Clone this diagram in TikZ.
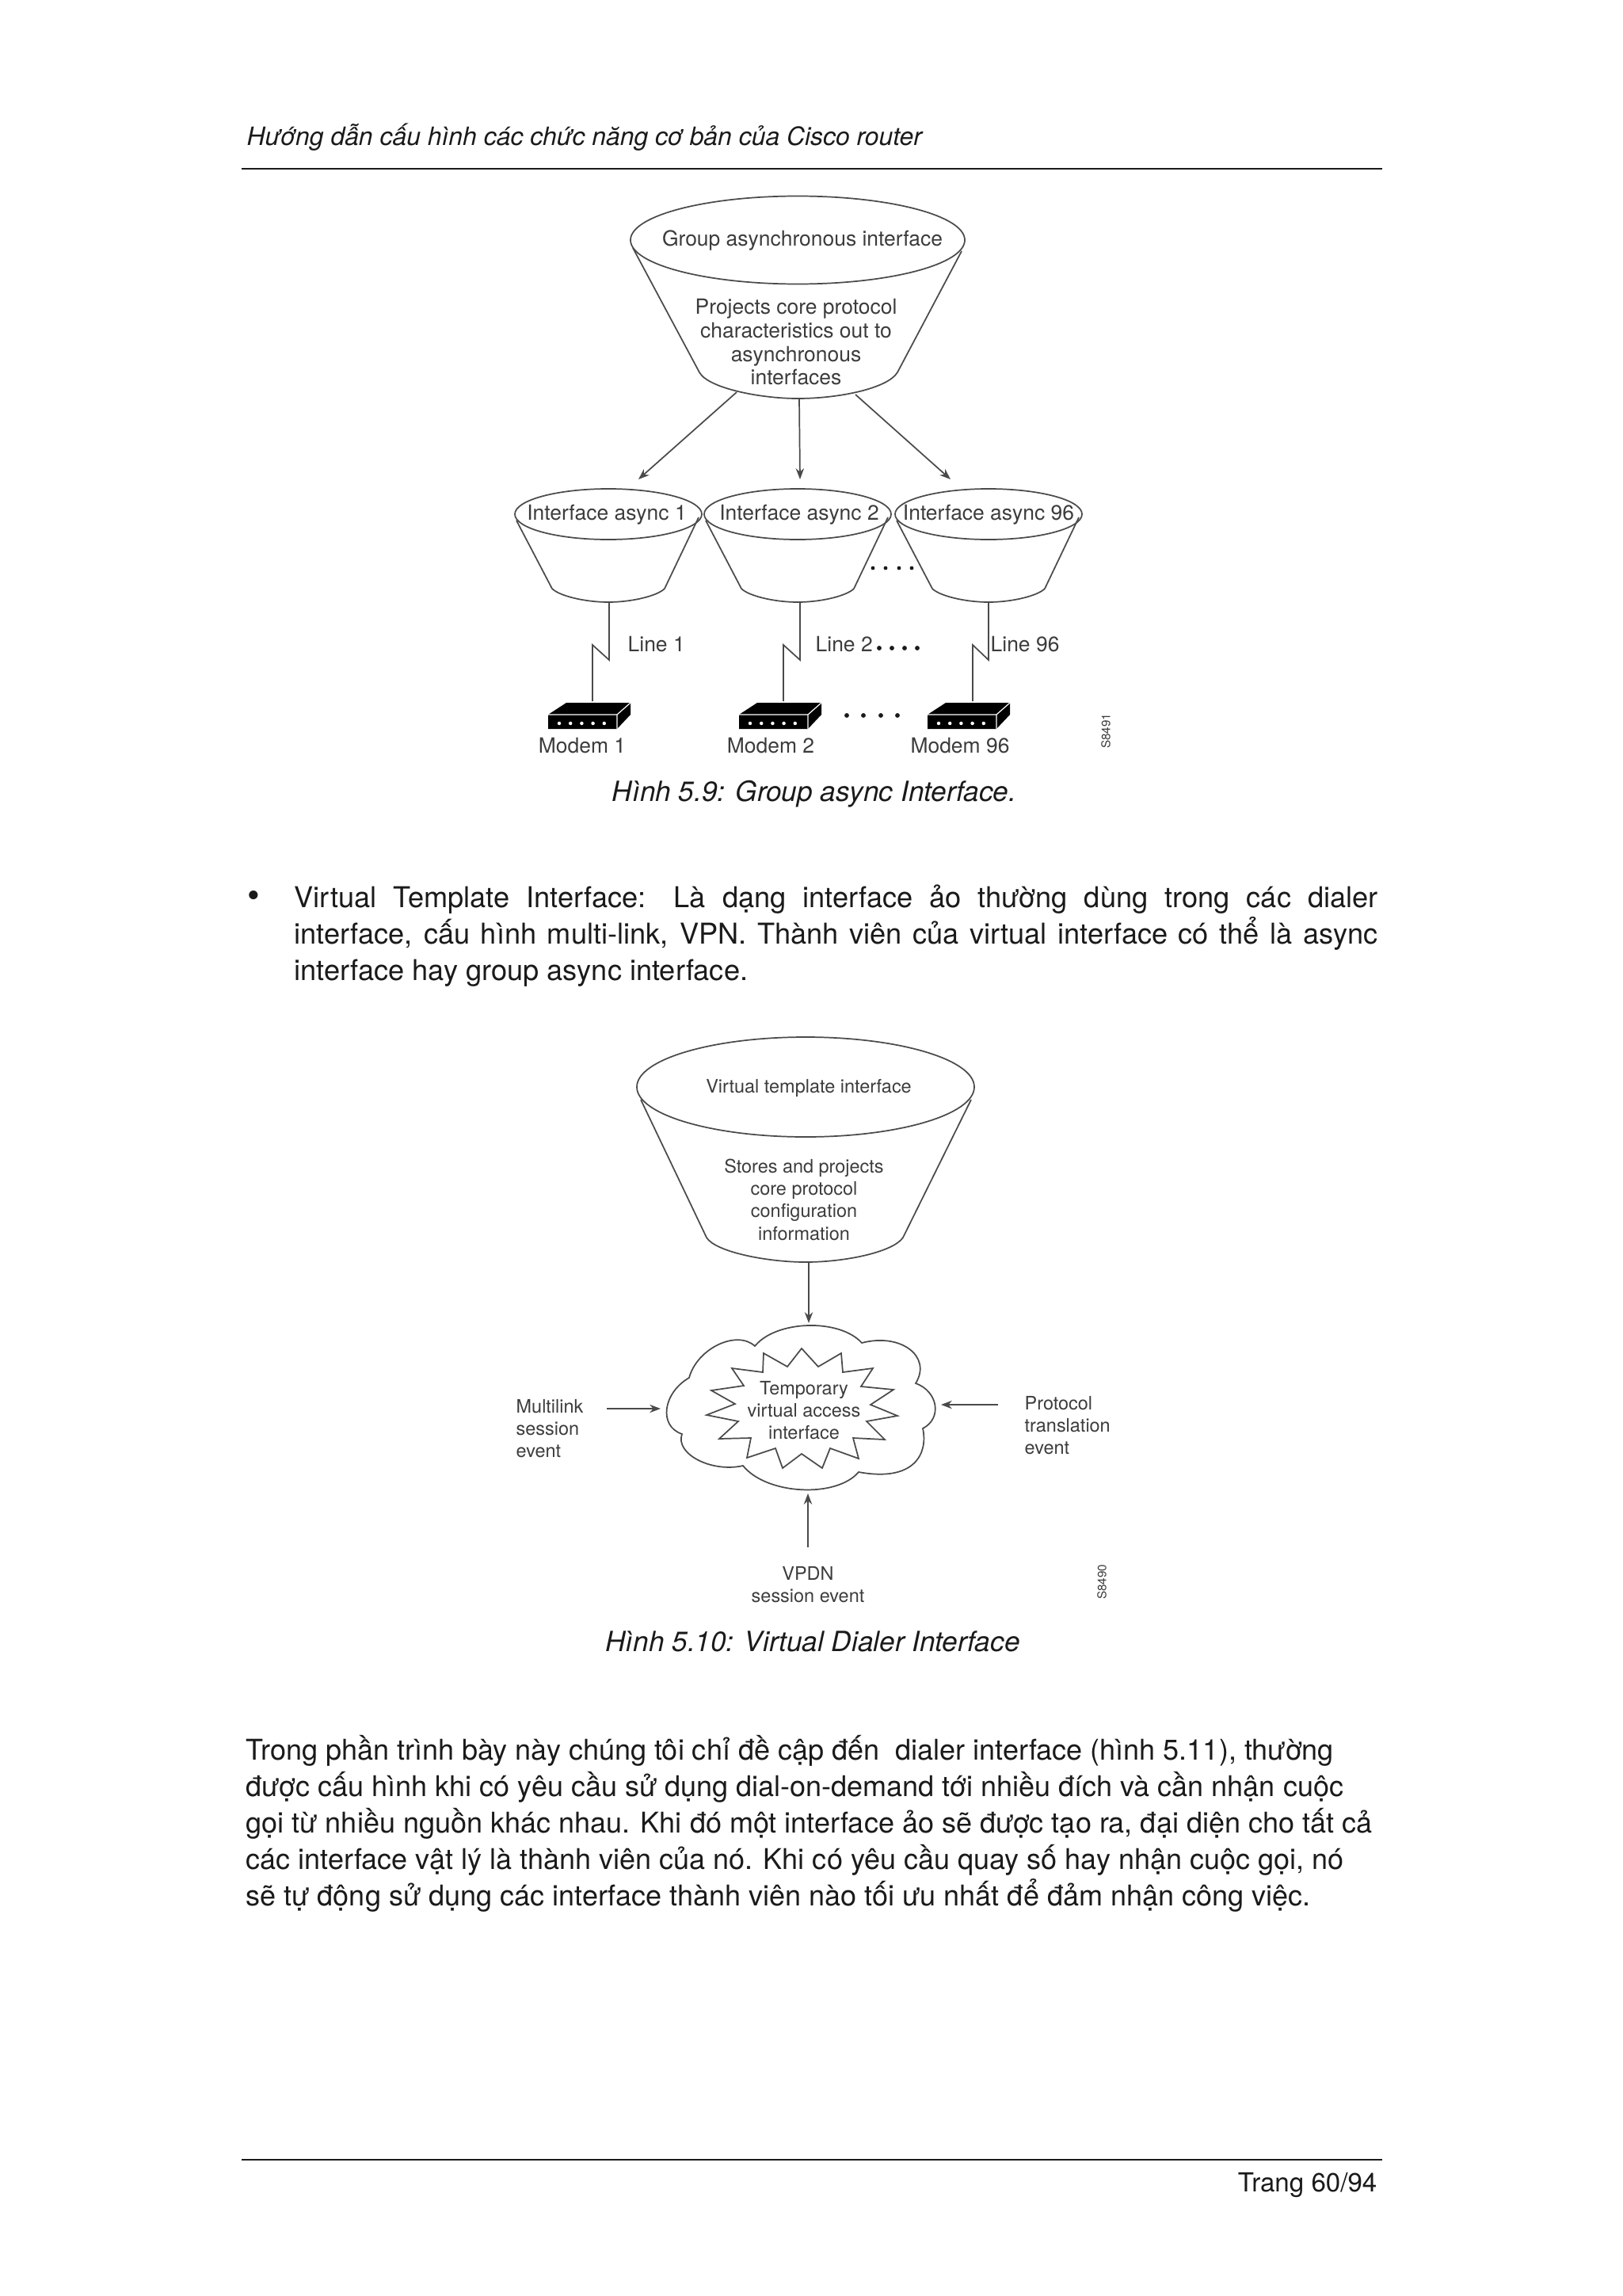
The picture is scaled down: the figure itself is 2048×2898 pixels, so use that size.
\documentclass[tikz,border=0pt]{standalone}
\usepackage{fontspec}
\setmainfont{TeX Gyre Heros}
\usetikzlibrary{shapes.geometric,arrows.meta}
\definecolor{pageink}{HTML}{1A1A1A}
\definecolor{figink}{HTML}{3C3C3C}
\definecolor{figline}{HTML}{4A4A4A}
\def\px{0.29pt}

\begin{document}
\begin{tikzpicture}[
  x=0.29pt, y=-0.29pt,
  bodytxt/.style={font=\fontsize{10.5}{13.33}\selectfont, text=pageink, inner sep=0pt},
  capt/.style={font=\fontsize{10.2}{13.33}\selectfont\itshape, text=pageink, inner sep=0pt},
  figa/.style={font=\fontsize{7.67}{8.6}\selectfont, text=figink, inner sep=0pt, align=center},
  figb/.style={font=\fontsize{6.8}{8.2}\selectfont, text=figink, inner sep=0pt, align=center},
  tag/.style={font=\fontsize{4.4}{5}\selectfont, text=figink, inner sep=0pt, rotate=90},
  rim/.style={ellipse, draw=figline, line width=0.5pt, inner sep=0pt},
  wall/.style={draw=figline, line width=0.5pt},
  arr/.style={draw=figline, line width=0.5pt, -{Stealth[length=4pt, width=3pt]}},
]
\useasboundingbox (0,0) rectangle (2048,2898);

% ============ page head ============
\node[capt, font=\fontsize{9.25}{13.33}\selectfont\itshape, anchor=west] (head) at (311,173)
  {Hướng dẫn cấu hình các chức năng cơ bản của Cisco router};
\draw[pageink, line width=0.6pt] (305,213) -- (1745,213);

% ============ figure 5.9: group interface funnel ============
\node[rim, minimum width=422*\px, minimum height=111*\px] (group) at (1007,303) {};
\node[figa] (grouptxt) at (1013,304) {Group asynchronous interface};
\draw[wall] (799,313) -- (883,470) .. controls (894,490) and (960,503) .. (1007,503)
  .. controls (1060,503) and (1121,490) .. (1133,470) -- (1214,317);
\node[figa] (groupbody) at (1005,432)
  {Projects core protocol\\ characteristics out to\\ asynchronous\\ interfaces};

% member funnels
\foreach \nm/\cx/\txtx/\lbl in {a/768/766/1, b/1007/1009/2, c/1248/1248/96} {
  \node[rim, minimum width=236*\px, minimum height=64*\px] (rim\nm) at (\cx,649) {};
  \node[figa] (rimtxt\nm) at (\txtx,650) {Interface async \lbl};
  \draw[wall] ({\cx-116},657) -- ({\cx-71},743)
    .. controls ({\cx-62},752) and ({\cx-30},760) .. (\cx,760)
    .. controls ({\cx+30},760) and ({\cx+62},752) .. ({\cx+71},743) -- ({\cx+114},653);
}
% arrows from the group funnel
\coordinate (ga) at (930,495);
\coordinate (gb) at (1009,503);
\coordinate (gc) at (1080,498);
\coordinate (ta) at (806,605);
\coordinate (tb) at (1010,605);
\coordinate (tc) at (1200,605);
\draw[arr] (ga) -- (ta);
\draw[arr] (gb) -- (tb);
\draw[arr] (gc) -- (tc);
% dots between funnels
\foreach \dx in {1102,1118,1135,1151} \fill[pageink] (\dx,717) circle (0.7pt);

% serial lines
\foreach \nm/\ux/\dx in {a/769/748, b/1010/989, c/1248/1228} {
  \coordinate (ltop\nm) at (\ux,760);
  \coordinate (lup\nm) at (\ux,833);
  \coordinate (ldn\nm) at (\dx,814);
  \coordinate (lend\nm) at (\dx,885);
  \draw[wall] (ltop\nm) -- (lup\nm) -- (ldn\nm) -- (lend\nm);
}
\node[figa, anchor=west] (linea) at (792,813) {Line 1};
\node[figa, anchor=west] (lineb) at (1029,813) {Line 2};
\node[figa, anchor=west] (linec) at (1250,813) {Line 96};
\foreach \dx in {1110,1126,1142,1158} \fill[pageink] (\dx,818) circle (0.85pt);

% modems
\foreach \nm/\fx/\cx/\lbl in {a/692/735/1, b/933/973/2, c/1171/1212/96} {
  \fill[black] (\fx,902) -- ({\fx+23},887) -- ({\fx+104},887) -- ({\fx+104},902)
    -- ({\fx+87},920) -- (\fx,920) -- cycle;
  \draw[white, line width=0.35pt] (\fx,902) -- ({\fx+87},902) -- ({\fx+104},887)
    ({\fx+87},902) -- ({\fx+87},920);
  \foreach \k in {0,...,4} \fill[white] ({\fx+14+\k*14.2},913) circle (0.65pt);
  \node[figa] (modem\nm) at (\cx,941) {Modem \lbl};
}
\foreach \dx in {1069,1090,1112,1133} \fill[pageink] (\dx,903) circle (0.85pt);
\node[tag] (taga) at (1396,923) {S8491};

\node[capt] (capa) at (1028,1002) {Hình 5.9: Group async Interface.};

% ============ bullet paragraph ============
\node[bodytxt, font=\fontsize{13}{13.33}\selectfont] (bullet) at (320,1135) {•};
\node[bodytxt, anchor=west, text width=1368*\px, align=justify] (bulletbody) at (371,1181)
  {Virtual Template Interface: Là dạng interface ảo thường dùng trong các dialer\linebreak
   interface, cấu hình multi-link, VPN. Thành viên của virtual interface có thể là async
   interface hay group async interface.};

% ============ figure 5.10: template funnel ============
\node[rim, minimum width=426*\px, minimum height=126*\px] (tmpl) at (1017,1372) {};
\node[figb] (tmpltxt) at (1021,1373) {Virtual template interface};
\draw[wall] (809,1388) -- (892,1562) .. controls (903,1580) and (968,1593) .. (1017,1593)
  .. controls (1068,1593) and (1128,1580) .. (1140,1562) -- (1226,1388);
\node[figb] (tmplbody) at (1015,1514)
  {Stores and projects\\ core protocol\\ configuration\\ information};

% cloud
\coordinate (na) at (953,1699);
\coordinate (nb) at (1088,1695);
\coordinate (nc) at (1156,1746);
\coordinate (nd) at (1165,1803);
\coordinate (ne) at (1084,1858);
\coordinate (nf) at (938,1850);
\coordinate (ng) at (861,1810);
\coordinate (nh) at (870,1739);
\draw[wall] (na) .. controls (980,1666) and (1060,1664) .. (nb)
  .. controls (1137,1682) and (1177,1712) .. (nc)
  .. controls (1184,1756) and (1190,1790) .. (nd)
  .. controls (1172,1835) and (1154,1871) .. (ne)
  .. controls (1056,1891) and (968,1887) .. (nf)
  .. controls (898,1859) and (852,1835) .. (ng)
  .. controls (831,1800) and (837,1758) .. (nh)
  .. controls (880,1702) and (930,1678) .. (na) -- cycle;

% star
\draw[wall] (964,1708) -- (994,1725) -- (1012,1702) -- (1033,1725) -- (1062,1708)
  -- (1064,1732) -- (1102,1727) -- (1087,1750) -- (1128,1754) -- (1099,1773)
  -- (1133,1787) -- (1094,1794) -- (1117,1817) -- (1077,1815) -- (1084,1841)
  -- (1048,1828) -- (1038,1853) -- (1012,1835) -- (988,1853) -- (979,1828)
  -- (943,1840) -- (948,1815) -- (908,1816) -- (932,1794) -- (892,1786)
  -- (928,1772) -- (898,1755) -- (939,1749) -- (924,1727) -- (963,1732) -- cycle;
\node[figb] (startxt) at (1015,1780) {Temporary\\ virtual access\\ interface};

% events
\node[figb, anchor=west, align=left] (evmulti) at (651,1803) {Multilink\\ session\\ event};
\node[figb, anchor=west, align=left] (evproto) at (1293,1799) {Protocol\\ translation\\ event};
\node[figb] (evvpdn) at (1020,2000) {VPDN\\ session event};
\coordinate (mfrom) at (766,1778);
\coordinate (mto) at (834,1778);
\coordinate (pfrom) at (1260,1773);
\coordinate (pto) at (1188,1773);
\coordinate (vfrom) at (1020,1953);
\coordinate (vto) at (1020,1885);
\coordinate (tfrom) at (1021,1593);
\coordinate (tto) at (1021,1670);
\draw[arr] (tfrom) -- (tto);
\draw[arr] (mfrom) -- (mto);
\draw[arr] (pfrom) -- (pto);
\draw[arr] (vfrom) -- (vto);
\node[tag] (tagb) at (1391,1997) {S8490};

\node[capt] (capb) at (1026,2072) {Hình 5.10: Virtual Dialer Interface};

% ============ closing paragraph ============
\node[bodytxt, font=\fontsize{10.45}{13.33}\selectfont, anchor=west, align=left] (closing) at (310,2302)
  {Trong phần trình bày này chúng tôi chỉ đề cập đến\ \ dialer interface (hình 5.11), thường\\
   được cấu hình khi có yêu cầu sử dụng dial-on-demand tới nhiều đích và cần nhận cuộc\\
   gọi từ nhiều nguồn khác nhau. Khi đó một interface ảo sẽ được tạo ra, đại diện cho tất cả\\
   các interface vật lý là thành viên của nó. Khi có yêu cầu quay số hay nhận cuộc gọi, nó\\
   sẽ tự động sử dụng các interface thành viên nào tối ưu nhất để đảm nhận công việc.};

% ============ page foot ============
\draw[pageink, line width=0.6pt] (305,2726) -- (1745,2726);
\node[bodytxt, font=\fontsize{9.6}{13.33}\selectfont, anchor=east] (pageno) at (1739,2758) {Trang 60/94};

\end{tikzpicture}
\end{document}
